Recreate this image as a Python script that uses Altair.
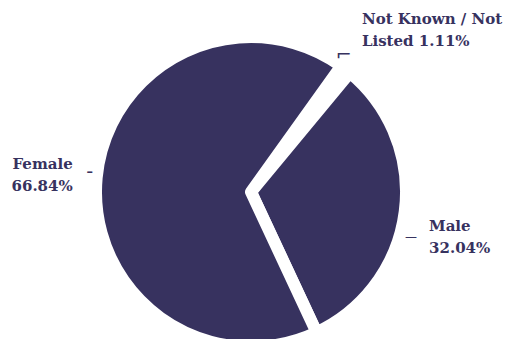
import math
import altair as alt
import pandas as pd

# ---- data ----
categories = ["Not Known / Not Listed", "Male", "Female"]
values = [1.11, 32.04, 66.84]
label_lines = [["Not Known / Not", "Listed 1.11%"], ["Male", "32.04%"], ["Female", "66.84%"]]
leader_glyphs = ["\u2310", "\u2014", "\u2013"]

df = pd.DataFrame({
    "cat": categories,
    "value": values,
    "label": label_lines,
    "glyph": leader_glyphs,
})

total = sum(values)
COLOR = "#37325f"
start = math.radians(35.6)

theta_scale = alt.Scale(domain=[0, total], range=[start, start + 2 * math.pi])

base = (
    alt.Chart(df)
    .transform_window(idx="row_number()")
    .transform_stack(stack="value", groupby=[], as_=["v0", "v1"], sort=[alt.SortField("idx")])
    .transform_calculate(mid="(datum.v0 + datum.v1) / 2")
)

pie = base.mark_arc(
    outerRadius=155, stroke="white", strokeWidth=12, strokeJoin="round", color=COLOR
).encode(
    theta=alt.Theta("v0:Q", scale=theta_scale, stack=None),
    theta2="v1:Q",
)


def label_layer(cat, radius, align, dx, dy):
    return base.transform_filter(alt.datum.cat == cat).mark_text(
        radius=radius, align=align, baseline="middle", dx=dx, dy=dy,
        font="DejaVu Serif", fontWeight="bold", fontSize=15, lineHeight=22, color=COLOR,
    ).encode(
        theta=alt.Theta("mid:Q", scale=theta_scale, stack=None),
        text="label:N",
    )


def leader_layer(cat, radius, dx, dy, size, weight="normal"):
    return base.transform_filter(alt.datum.cat == cat).mark_text(
        radius=radius, align="center", baseline="middle", dx=dx, dy=dy,
        font="DejaVu Sans", fontSize=size, fontWeight=weight, color=COLOR,
    ).encode(
        theta=alt.Theta("mid:Q", scale=theta_scale, stack=None),
        text="glyph:N",
    )


chart = alt.layer(
    pie,
    label_layer("Female", 179, "right", 0, -12),
    label_layer("Male", 181, "left", -1.5, 11),
    label_layer("Not Known / Not Listed", 190, "left", -5, -22),
    leader_layer("Female", 162, 0, -5, 13, "bold"),
    leader_layer("Male", 165, -3.7, 24, 12),
    leader_layer("Not Known / Not Listed", 160, -5, -10, 19),
).properties(
    width=502,
    height=294,
    padding={"left": 0, "top": 45, "right": 6, "bottom": 0},
    autosize="none",
).configure_view(stroke=None)

chart.save("out.html", embed_options={"renderer": "svg", "actions": False})
